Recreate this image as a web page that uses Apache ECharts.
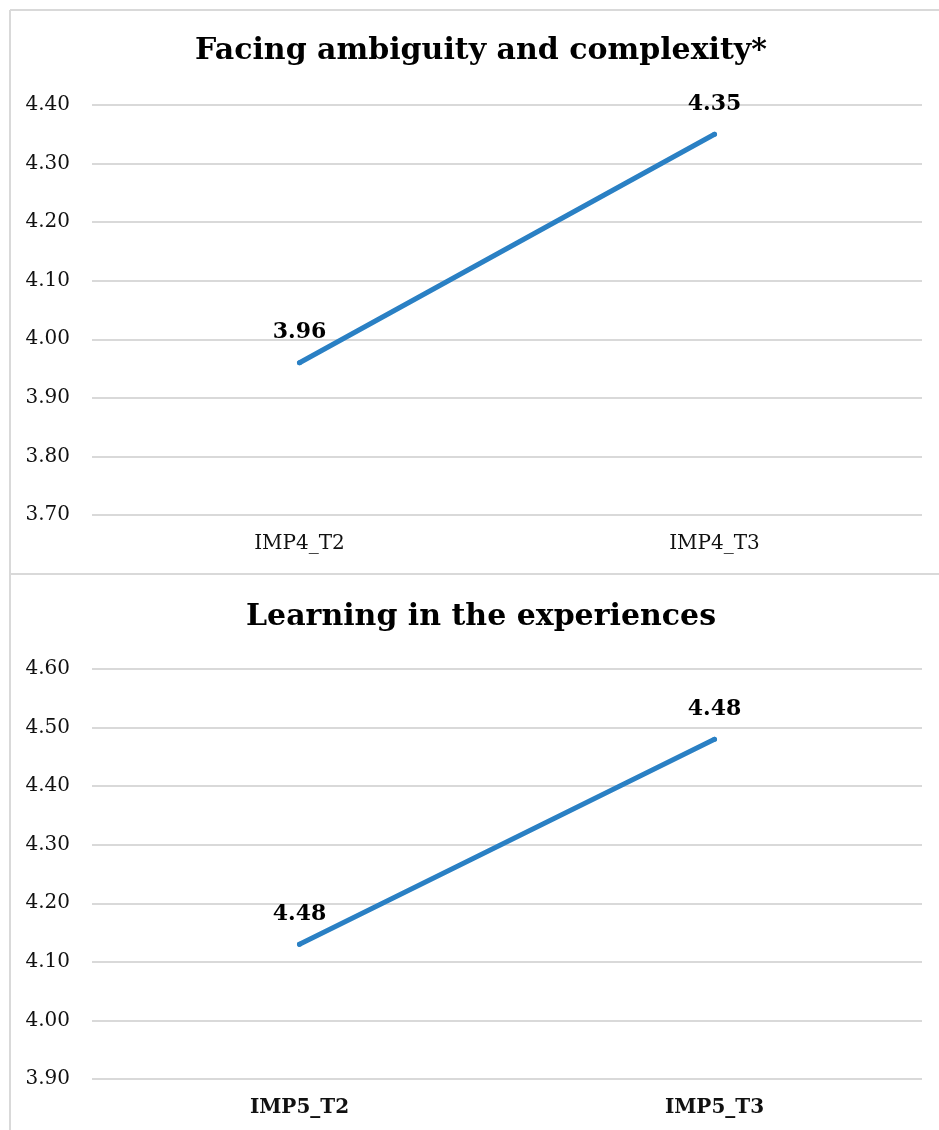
<!DOCTYPE html>
<html>
<head>
<meta charset="utf-8">
<script src="https://cdn.jsdelivr.net/npm/echarts@6/dist/echarts.min.js"></script>
<style>
html,body{margin:0;padding:0;background:#fff;}
#c{width:939px;height:1130px;}
</style>
</head>
<body>
<div id="c"></div>
<script>
const titles = ['Facing ambiguity and complexity*', 'Learning in the experiences'];
const categoriesTop = ['IMP4_T2', 'IMP4_T3'];
const valuesTop = [3.96, 4.35];
const labelsTop = ['3.96', '4.35'];
const categoriesBottom = ['IMP5_T2', 'IMP5_T3'];
const valuesBottom = [4.13, 4.48];
const labelsBottom = ['4.48', '4.48'];
const yTop = {min: 3.7, max: 4.4, interval: 0.1};
const yBottom = {min: 3.9, max: 4.6, interval: 0.1};

const FONT = 'DejaVu Serif';
const lineColor = '#2a80c4';
const borderColor = '#d9d9d9';

function mkSeries(vals, labels, idx) {
  return {
    type: 'line',
    xAxisIndex: idx, yAxisIndex: idx,
    data: vals,
    symbol: 'circle', symbolSize: 5,
    itemStyle: {color: lineColor},
    lineStyle: {color: lineColor, width: 5, cap: 'round'},
    label: {
      show: true, position: 'top', distance: 17,
      fontFamily: FONT, fontWeight: 'bold', fontSize: 22, color: '#000',
      formatter: p => labels[p.dataIndex]
    },
    animation: false
  };
}
function mkY(cfg, idx) {
  return {
    type: 'value', gridIndex: idx,
    min: cfg.min, max: cfg.max, interval: cfg.interval,
    axisLine: {show: false}, axisTick: {show: false},
    axisLabel: {fontFamily: FONT, fontSize: 20, color: '#111', margin: 22,
      formatter: v => v.toFixed(2)},
    splitLine: {lineStyle: {color: borderColor, width: 2}}
  };
}
function mkX(cats, idx, bold) {
  return {
    type: 'category', gridIndex: idx, data: cats, boundaryGap: true,
    axisLine: {show: false}, axisTick: {show: false},
    axisLabel: {fontFamily: FONT, fontSize: 20, color: '#111', margin: 19,
      fontWeight: bold ? 'bold' : 'normal'}
  };
}

const chart = echarts.init(document.getElementById('c'));
chart.setOption({
  backgroundColor: '#fff',
  title: [
    {text: titles[0], left: 476, textAlign: 'center', top: 31,
      textStyle: {fontFamily: FONT, fontWeight: 'bold', fontSize: 30, color: '#000'}},
    {text: titles[1], left: 476, textAlign: 'center', top: 597,
      textStyle: {fontFamily: FONT, fontWeight: 'bold', fontSize: 30, color: '#000'}}
  ],
  grid: [
    {left: 92, right: 17, top: 105, height: 410},
    {left: 92, right: 17, top: 669, height: 410}
  ],
  xAxis: [mkX(categoriesTop, 0, false), mkX(categoriesBottom, 1, true)],
  yAxis: [mkY(yTop, 0), mkY(yBottom, 1)],
  series: [mkSeries(valuesTop, labelsTop, 0), mkSeries(valuesBottom, labelsBottom, 1)],
  graphic: [
    {type: 'line', shape: {x1: 10, y1: 10, x2: 939, y2: 10}, style: {stroke: borderColor, lineWidth: 2}},
    {type: 'line', shape: {x1: 10, y1: 10, x2: 10, y2: 1130}, style: {stroke: borderColor, lineWidth: 2}},
    {type: 'line', shape: {x1: 10, y1: 574, x2: 939, y2: 574}, style: {stroke: borderColor, lineWidth: 2}}
  ]
});
</script>
</body>
</html>
